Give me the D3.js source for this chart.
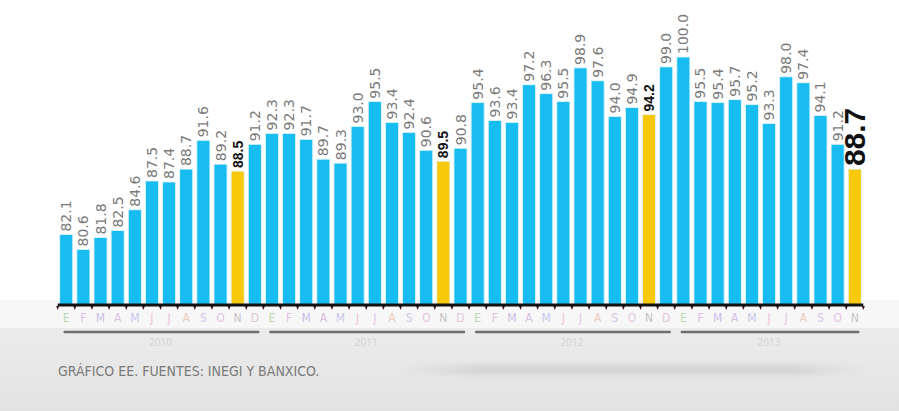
<!DOCTYPE html>
<html>
<head>
<meta charset="utf-8">
<script src="https://cdn.jsdelivr.net/npm/d3@7"></script>
<style>
html,body{margin:0;padding:0;background:#fff;}
svg{display:block;}
</style>
</head>
<body>
<svg id="chart" width="899" height="411"></svg>
<script>
const months = ["E","F","M","A","M","J","J","A","S","O","N","D","E","F","M","A","M","J","J","A","S","O","N","D","E","F","M","A","M","J","J","A","S","O","N","D","E","F","M","A","M","J","J","A","S","O","N"];
const values = [82.1,80.6,81.8,82.5,84.6,87.5,87.4,88.7,91.6,89.2,88.5,91.2,
                92.3,92.3,91.7,89.7,89.3,93.0,95.5,93.4,92.4,90.6,89.5,90.8,
                95.4,93.6,93.4,97.2,96.3,95.5,98.9,97.6,94.0,94.9,94.2,99.0,
                100.0,95.5,95.4,95.7,95.2,93.3,98.0,97.4,94.1,91.2,88.7];
const highlighted = [10,22,34,46];
const years = ["2010","2011","2012","2013"];
const yearStarts = [0,12,24,36];
const yearEnds = [11,23,35,46];
const monthColors = ["#b9d9ad","#e3bde3","#cbbde9","#d9bfe6","#c8c8ec","#f0c4dc","#e8c4e8","#eccdbd","#d6c4ec","#e4c2e6","#c9c9c9","#e6c7d9"];
const source = "GRÁFICO EE. FUENTES: INEGI Y BANXICO.";

const svg = d3.select("#chart");
const W = 899, H = 411;

// background
const defs = svg.append("defs");
const g1 = defs.append("linearGradient").attr("id","bg").attr("x1",0).attr("y1",0).attr("x2",0).attr("y2",1);
g1.append("stop").attr("offset","0%").attr("stop-color","#ececec");
g1.append("stop").attr("offset","100%").attr("stop-color","#e2e2e2");
const g2 = defs.append("linearGradient").attr("id","smear").attr("x1",0).attr("y1",0).attr("x2",1).attr("y2",0);
g2.append("stop").attr("offset","0%").attr("stop-color","#d8d8d8").attr("stop-opacity",0.2);
g2.append("stop").attr("offset","15%").attr("stop-color","#cfcfcf").attr("stop-opacity",0.9);
g2.append("stop").attr("offset","85%").attr("stop-color","#cfcfcf").attr("stop-opacity",0.9);
g2.append("stop").attr("offset","100%").attr("stop-color","#d8d8d8").attr("stop-opacity",0.1);
const blur = defs.append("filter").attr("id","blur").attr("x","-10%").attr("y","-200%").attr("width","120%").attr("height","500%");
blur.append("feGaussianBlur").attr("stdDeviation",3);

svg.append("rect").attr("width",W).attr("height",H).attr("fill","#fff");
svg.append("rect").attr("x",0).attr("y",326).attr("width",W).attr("height",H-326).attr("fill","url(#bg)");
svg.append("rect").attr("x",0).attr("y",300).attr("width",W).attr("height",28).attr("fill","#f7f7f7");
svg.append("rect").attr("x",405).attr("y",366).attr("width",460).attr("height",8)
  .attr("fill","url(#smear)").attr("filter","url(#blur)");

const x = d3.scaleBand().domain(d3.range(values.length)).range([58,863]).paddingInner(0.24).paddingOuter(0.1);
const y = d3.scaleLinear().domain([75,100]).range([305,57]);

// bars
svg.append("g").selectAll("rect").data(values).join("rect")
  .attr("x",(d,i)=>x(i))
  .attr("y",d=>y(d))
  .attr("width",x.bandwidth())
  .attr("height",d=>y(75)-y(d))
  .attr("fill",(d,i)=>highlighted.includes(i)?"#f7c90a":"#17bdf0")
  .attr("stroke","#dff6ff").attr("stroke-width",0.8);

// baseline axis
const axis = d3.axisBottom(x).tickSize(0).tickFormat("");
const ag = svg.append("g").attr("transform","translate(0,305)").call(axis);
ag.select(".domain").attr("stroke","#111").attr("stroke-width",3).attr("d",`M${x(0)-2},0H${x(values.length-1)+x.bandwidth()+2}`);
// small tick marks between bars
svg.append("g").selectAll("path").data(d3.range(values.length+1)).join("path")
  .attr("d",i=>{const cx=(i<values.length?x(i):x(values.length-1)+x.step())-x.step()*x.paddingInner()/2; return `M${cx-1.5},306L${cx+1.5},306L${cx},310Z`;})
  .attr("fill","#3a1010");

// month labels
svg.append("g").selectAll("text").data(months).join("text")
  .attr("x",(d,i)=>x(i)+x.bandwidth()/2)
  .attr("y",322)
  .attr("text-anchor","middle")
  .attr("font-family","'Liberation Sans Narrow','DejaVu Sans Condensed',sans-serif")
  .attr("font-size",12)
  .attr("fill",(d,i)=>highlighted.includes(i)?"#c4c4c4":monthColors[i%12])
  .text(d=>d);

// year underlines
svg.append("g").selectAll("line").data(years).join("line")
  .attr("x1",(d,i)=>x(yearStarts[i])+5)
  .attr("x2",(d,i)=>x(yearEnds[i])+x.bandwidth()-3)
  .attr("y1",332).attr("y2",332)
  .attr("stroke","#5a5a5a").attr("stroke-width",2.5).attr("stroke-linecap","round")
  .attr("opacity",0.85);
svg.append("g").selectAll("text").data(years).join("text")
  .attr("x",(d,i)=>(x(yearStarts[i])+x(yearEnds[i])+x.bandwidth())/2)
  .attr("y",346)
  .attr("text-anchor","middle")
  .attr("font-family","'Open Sans',sans-serif")
  .attr("font-size",10)
  .attr("fill","#d2d2d2")
  .text(d=>d);

// value labels
svg.append("g").selectAll("text").data(values).join("text")
  .attr("transform",(d,i)=>`translate(${x(i)+x.bandwidth()/2},${y(d)-3}) rotate(-90)`)
  .attr("dominant-baseline","central")
  .attr("text-anchor","start")
  .attr("font-family",(d,i)=>highlighted.includes(i)?"'Liberation Sans',Arial,sans-serif":"'DejaVu Sans',sans-serif")
  .attr("font-weight",(d,i)=>highlighted.includes(i)?"bold":"normal")
  .attr("font-size",(d,i)=>i===values.length-1?30:14)
  .attr("fill",(d,i)=>highlighted.includes(i)?"#111":"#7a7a7a")
  .text(d=>d.toFixed(1));

// source
svg.append("text")
  .attr("x",58).attr("y",376)
  .attr("font-family","'Liberation Sans Narrow','DejaVu Sans Condensed',sans-serif")
  .attr("font-size",14)
  .attr("fill","#7a7a7a")
  .text(source);
</script>
</body>
</html>
